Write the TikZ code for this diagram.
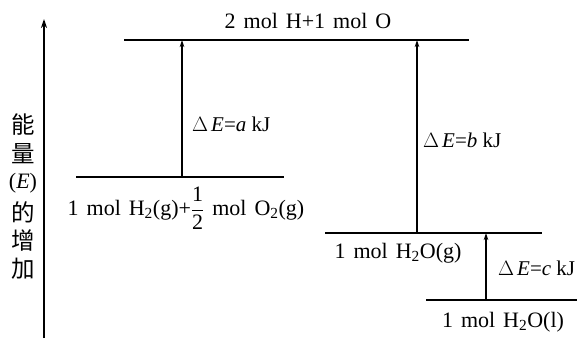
\documentclass[tikz,border=0pt]{standalone}
\usepackage{fontspec}
\setmainfont{Liberation Serif}[WordSpace=1.45]
\newfontfamily\cjk{Noto Sans CJK SC}
\newfontfamily\plainserif{Liberation Serif}
\usetikzlibrary{arrows.meta}
\tikzset{
  level/.style={line width=2pt},
  axisline/.style={line width=1.8pt,-{Stealth[length=9pt,width=6pt]}},
  jump/.style={line width=1.8pt,-{Stealth[length=7pt,width=4.5pt]}},
  lbl/.style={inner sep=0pt,font=\fontsize{22}{24}\selectfont},
  dlbl/.style={inner sep=0pt,font=\fontsize{21}{24}\selectfont\plainserif},
  cjkl/.style={inner sep=0pt,font=\fontsize{23.5}{24}\selectfont\cjk},
}
\newcommand{\dE}[1]{$\Delta$\kern3pt\textit{E}=\textit{#1} kJ}
\begin{document}
\begin{tikzpicture}[x=1pt,y=-1pt]
\useasboundingbox (0,0) rectangle (580,339);
% axis
\coordinate (ax0) at (44,338);
\coordinate (ax1) at (44,19);
\draw[axisline] (ax0) -- (ax1);
\node[cjkl] (c1) at (23,125) {能};
\node[cjkl] (c2) at (23,154) {量};
\node[lbl] (c3) at (23,183) {(\textit{E})};
\node[cjkl] (c4) at (23,212) {的};
\node[cjkl] (c5) at (23,241) {增};
\node[cjkl] (c6) at (23,269) {加};
% levels
\coordinate (tL) at (124,40); \coordinate (tR) at (469,40);
\draw[level] (tL) -- (tR);
\node[lbl] (top) at (308,21) {2 mol H+1 mol O};
\coordinate (aL) at (76,177); \coordinate (aR) at (284,177);
\draw[level] (aL) -- (aR);
\node[lbl,anchor=north] (lA) at (186,187) {1 mol H\textsubscript{2}(g)+$\displaystyle\frac{\hbox{1}}{\hbox{2}}$ mol O\textsubscript{2}(g)};
\coordinate (gL) at (325,233); \coordinate (gR) at (542,233);
\draw[level] (gL) -- (gR);
\node[lbl] (lG) at (398,253) {1 mol H\textsubscript{2}O(g)};
\coordinate (lL) at (426,300); \coordinate (lR) at (577,300);
\draw[level] (lL) -- (lR);
\node[lbl] (lL2) at (503,322) {1 mol H\textsubscript{2}O(l)};
% arrows
\coordinate (a0) at (182,177); \coordinate (a1) at (182,40);
\draw[jump] (a0) -- (a1);
\node[dlbl,anchor=west] (ea) at (192,124) {\dE{a}};
\coordinate (b0) at (417,233); \coordinate (b1) at (417,40);
\draw[jump] (b0) -- (b1);
\node[dlbl,anchor=west] (eb) at (423,140) {\dE{b}};
\coordinate (c0) at (486,300); \coordinate (c1) at (486,233);
\draw[jump] (c0) -- (c1);
\node[dlbl,anchor=west] (ec) at (498,268) {\dE{c}};
\end{tikzpicture}
\end{document}
